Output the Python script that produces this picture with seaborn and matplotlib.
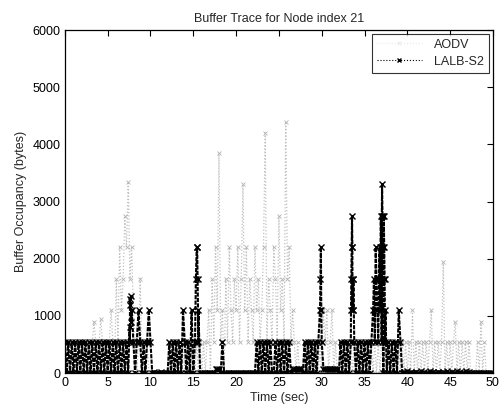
import matplotlib
matplotlib.use("Agg")
import matplotlib.pyplot as plt
import numpy as np
import pandas as pd
import seaborn as sns

# sample step of the buffer trace (sec)
step = 0.2

# AODV buffer occupancy (bytes), one value every 0.2 s from 0 to 50 s
aodv_vals = [
    550, 0, 550, 0, 550, 0, 550, 0, 550, 0,          # 0
    550, 0, 550, 0, 550, 0, 550, 900, 550, 0,        # 2
    550, 950, 550, 0, 550, 0, 550, 1100, 550, 0,     # 4
    1650, 550, 2200, 1100, 1650, 2750, 2200, 3350, 1650, 2200,  # 6
    1100, 550, 0, 550, 1650, 0, 550, 0, 550, 0,      # 8
    0, 0, 0, 0, 0, 0, 0, 0, 0, 0,                    # 10
    0, 550, 0, 550, 0, 550, 0, 550, 0, 550,          # 12
    0, 550, 0, 550, 0, 550, 0, 550, 0, 550,          # 14
    0, 550, 0, 550, 1100, 0, 1650, 550, 2200, 1100,  # 16
    3850, 550, 1100, 0, 1650, 550, 2200, 1100, 550, 1650,       # 18
    1100, 2200, 550, 1650, 3300, 1100, 2200, 550, 1650, 1100,   # 20
    550, 2200, 1100, 1650, 550, 1100, 2200, 4200, 550, 1650,    # 22
    1100, 550, 2200, 1650, 550, 2750, 1100, 1650, 550, 4400,    # 24
    1650, 2200, 550, 1100, 550, 0, 550, 0, 0, 0,     # 26
    0, 550, 0, 550, 0, 550, 0, 550, 0, 550,          # 28
    0, 1100, 550, 1100, 0, 550, 1100, 0, 550, 0,     # 30
    0, 550, 0, 550, 0, 550, 0, 550, 0, 550,          # 32
    0, 550, 0, 550, 0, 550, 0, 550, 0, 550,          # 34
    0, 550, 0, 550, 0, 550, 0, 550, 0, 550,          # 36
    0, 550, 0, 550, 0, 550, 0, 550, 0, 550,          # 38
    0, 550, 0, 1100, 0, 550, 0, 550, 0, 550,         # 40
    0, 550, 0, 550, 1100, 0, 550, 0, 550, 0,         # 42
    550, 1950, 0, 550, 0, 550, 0, 550, 900, 0,       # 44
    550, 0, 550, 0, 550, 0, 550, 0, 0, 0,            # 46
    0, 550, 0, 900, 0, 550, 0, 0, 0, 0,              # 48
    0,
]

# LALB-S2 buffer occupancy (bytes), same 0.2 s grid
lalb_vals = [
    550, 0, 550, 0, 550, 0, 550, 0, 550, 0,          # 0
    550, 0, 550, 0, 550, 0, 550, 0, 550, 0,          # 2
    550, 0, 550, 0, 550, 0, 550, 0, 550, 0,          # 4
    550, 0, 550, 0, 550, 0, 550, 0, 550, 1100,       # 6
    550, 0, 550, 1100, 550, 0, 550, 0, 550, 1100,    # 8
    550, 0, 20, 0, 10, 0, 20, 0, 0, 10,              # 10
    0, 550, 0, 550, 0, 550, 0, 550, 0, 1100,         # 12
    550, 0, 550, 0, 1100, 0, 550, 2200, 550, 0,      # 14
    0, 10, 0, 0, 10, 0, 0, 0, 80, 80,                # 16
    80, 0, 550, 0, 0, 10, 0, 0, 10, 0,               # 18
    0, 0, 10, 0, 0, 0, 10, 0, 0, 0,                  # 20
    0, 0, 550, 0, 550, 0, 550, 0, 550, 0,            # 22
    550, 0, 0, 550, 0, 550, 0, 550, 0, 550,          # 24
    0, 550, 0, 80, 80, 80, 80, 80, 80, 0,            # 26
    550, 0, 550, 0, 550, 0, 550, 0, 550, 1100,       # 28
    550, 80, 80, 80, 80, 80, 80, 80, 80, 80,         # 30
    0, 550, 0, 550, 0, 550, 0, 550, 1100, 550,       # 32
    0, 550, 0, 550, 0, 550, 0, 550, 0, 550,          # 34
    1100, 550, 1650, 550, 1100, 550, 0, 550, 0, 550, # 36
    0, 550, 0, 550, 0, 1100, 550, 0, 20, 0,          # 38
    30, 0, 20, 10, 0, 20, 0, 10, 30, 0,              # 40
    20, 10, 0, 30, 0, 20, 0, 10, 20, 0,              # 42
    10, 20, 0, 30, 10, 0, 20, 0, 10, 30,             # 44
    0, 20, 10, 0, 30, 0, 20, 0, 0, 0,                # 46
    0, 0, 0, 0, 0, 0, 0, 0, 0, 0,                    # 48
    0,
]

# LALB-S2 queue bursts that fall between grid samples
lalb_burst_t = [7.55, 7.6, 7.65, 7.7, 7.75,
                15.3, 15.45, 15.5, 15.6,
                29.85, 29.9, 29.95,
                33.42, 33.46, 33.5, 33.54, 33.58, 33.62, 33.66, 33.7,
                36.1, 36.3, 36.5, 36.7, 36.75, 36.9, 36.95, 37.02, 37.05,
                37.1, 37.15, 37.22, 37.25, 37.3, 37.35, 37.45]
lalb_burst_v = [800, 1300, 1200, 1350, 900,
                1650, 2200, 1650, 1100,
                1650, 2200, 1100,
                1100, 1650, 2200, 2750, 2200, 1650, 1100, 1650,
                1650, 2200, 1100, 1650, 2200, 2750, 2200, 2750, 3300,
                2750, 2200, 1650, 2750, 2200, 1650, 1100]

grid_t = np.round(np.arange(len(aodv_vals)) * step, 2)
aodv_df = pd.DataFrame({'time': grid_t, 'bytes': aodv_vals})
lalb_df = pd.concat([pd.DataFrame({'time': grid_t, 'bytes': lalb_vals}),
                     pd.DataFrame({'time': lalb_burst_t, 'bytes': lalb_burst_v})])
lalb_df = lalb_df.sort_values('time', kind='stable').reset_index(drop=True)

sns.set_style('white')
plt.rcParams['font.family'] = ['Liberation Sans', 'DejaVu Sans']
# keep every zig-zag of the dense trace (no path simplification)
plt.rcParams['path.simplify'] = False

fig, ax = plt.subplots(figsize=(5.03, 4.11), dpi=100)
fig.subplots_adjust(left=0.129, right=0.980, top=0.927, bottom=0.092)

sns.lineplot(data=aodv_df, x='time', y='bytes', ax=ax, estimator=None, sort=False,
             color='#c0c0c0', linestyle=(0, (1, 1.6)), linewidth=0.9, marker='x', markersize=3,
             markeredgewidth=0.6, markeredgecolor='#b4b4b4', label='AODV')
sns.lineplot(data=lalb_df, x='time', y='bytes', ax=ax, estimator=None, sort=False,
             color='black', linestyle=(0, (2, 0.6)), linewidth=1.5, marker='x', markersize=4,
             markeredgewidth=1.0, markeredgecolor='black', label='LALB-S2')

ax.set_xlim(0, 50)
ax.set_ylim(0, 6000)
ax.set_xticks(range(0, 51, 5))
ax.set_yticks(range(0, 6001, 1000))
ax.tick_params(direction='in', top=True, right=True, length=4, width=0.8,
               labelsize=9, colors='black', pad=3)
for s in ax.spines.values():
    s.set_visible(True)
    s.set_color('black')
    s.set_linewidth(0.9)

ax.set_title('Buffer Trace for Node index 21', fontsize=9, pad=6)
ax.set_xlabel('Time (sec)', fontsize=9, labelpad=2)
ax.set_ylabel('Buffer Occupancy (bytes)', fontsize=9, labelpad=4)

leg = ax.legend(loc='upper right', fontsize=9, frameon=True, fancybox=False,
                borderaxespad=0.3, handlelength=3.6, handletextpad=1.0, numpoints=1,
                edgecolor='black', labelspacing=0.4)
leg.get_frame().set_linewidth(0.8)
for h in leg.legend_handles:
    h.set_linewidth(0.8)
    h.set_linestyle(':')
    h.set_markersize(3)
leg.legend_handles[0].set_color('#e8e8e8')
leg.legend_handles[0].set_markeredgecolor('#e8e8e8')

fig.savefig('out.png', dpi=100)
